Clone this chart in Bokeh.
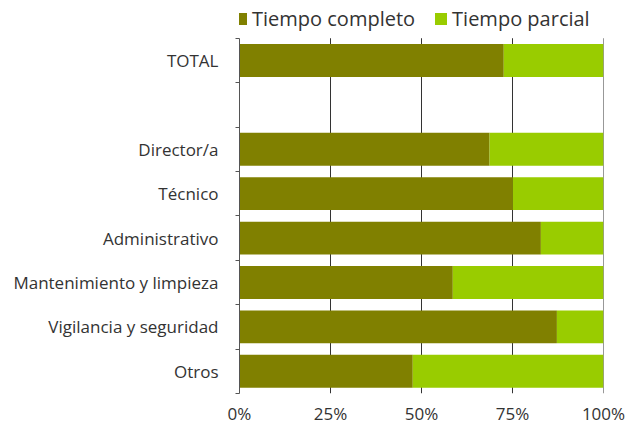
from bokeh.plotting import figure
from bokeh.models import ColumnDataSource, Range1d, FixedTicker, Legend
from bokeh.embed import file_html
from bokeh.resources import INLINE

categories = ["TOTAL", "Director/a", "Técnico", "Administrativo",
              "Mantenimiento y limpieza", "Vigilancia y seguridad", "Otros"]
slots = [0, 2, 3, 4, 5, 6, 7]  # slot 1 is an empty gap row
completo = [72.6, 68.7, 75.1, 82.8, 58.6, 87.2, 47.6]
parcial = [27.4, 31.3, 24.9, 17.2, 41.4, 12.8, 52.4]
series = ["Tiempo completo", "Tiempo parcial"]
colors = ["#808000", "#99CC00"]
x_ticks = [0, 25, 50, 75, 100]
x_labels = ["0%", "25%", "50%", "75%", "100%"]

n_slots = 8
top_pad = 0.85  # room above the bars for the legend (in row units)
ypos = [n_slots - 0.5 - s for s in slots]

source = ColumnDataSource(dict(y=ypos, completo=completo, parcial=parcial))

FONT = "Open Sans"

p = figure(width=634, height=427, output_backend="svg", toolbar_location=None,
           x_range=Range1d(0, 100), y_range=Range1d(0, n_slots + top_pad),
           min_border_left=239, min_border_right=31, min_border_top=0,
           min_border_bottom=32)
p.outline_line_color = None

# vertical grid lines, limited to the bar area
grid_x = x_ticks[1:]
p.segment(x0=grid_x, y0=[0] * len(grid_x), x1=grid_x, y1=[n_slots] * len(grid_x),
          line_color="#333333", line_width=1)

rs = p.hbar_stack(["completo", "parcial"], y="y", height=0.74, color=colors,
                  line_color=None, source=source)

# x axis
p.xaxis.ticker = FixedTicker(ticks=x_ticks)
p.xaxis.major_label_overrides = {t: l for t, l in zip(x_ticks, x_labels)}
p.xaxis.axis_line_color = None
p.xaxis.major_tick_line_color = None
p.xaxis.minor_tick_line_color = None
p.xaxis.major_tick_in = 0
p.xaxis.major_tick_out = 0
p.xaxis.minor_tick_in = 0
p.xaxis.minor_tick_out = 0
p.xaxis.major_label_standoff = 8
p.xaxis.major_label_text_font = FONT
p.xaxis.major_label_text_font_size = "17px"
p.xaxis.major_label_text_color = "#333333"

# y axis
p.yaxis.ticker = FixedTicker(ticks=ypos, minor_ticks=list(range(n_slots + 1)))
p.yaxis.bounds = (0, n_slots)
p.yaxis.major_label_overrides = {y: c for y, c in zip(ypos, categories)}
p.yaxis.axis_line_color = "#555555"
p.yaxis.axis_line_width = 1
p.yaxis.major_tick_line_color = None
p.yaxis.major_tick_in = 0
p.yaxis.major_tick_out = 0
p.yaxis.minor_tick_line_color = "#555555"
p.yaxis.minor_tick_out = 4
p.yaxis.minor_tick_in = 0
p.yaxis.major_label_standoff = 17
p.yaxis.major_label_text_font = FONT
p.yaxis.major_label_text_font_size = "17px"
p.yaxis.major_label_text_color = "#333333"

p.xgrid.grid_line_color = None
p.ygrid.grid_line_color = None

legend = Legend(items=[(s, [r]) for s, r in zip(series, rs)],
                location=(-6, 361), orientation="horizontal",
                glyph_width=15, glyph_height=15, label_standoff=4, spacing=18,
                padding=0, margin=0, border_line_color=None,
                background_fill_alpha=0,
                label_text_font=FONT, label_text_font_size="20px",
                label_text_color="#333333")
p.add_layout(legend, "center")

open("out.html", "w").write(file_html(p, INLINE))
